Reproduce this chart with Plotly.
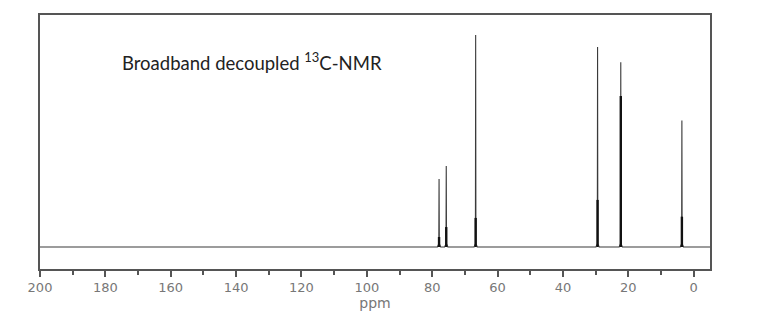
import plotly.graph_objects as go

# Peak data (ppm)
peak_ppm = [77.9, 75.7, 66.7, 29.4, 22.3, 3.6]
peak_height = [32.1, 38.2, 100.0, 94.3, 87.1, 59.6]
# height up to which the peak line appears dense/thick
dense_height = [4.7, 9.4, 13.7, 22.2, 71.2, 14.3]

x_ticks = [200, 180, 160, 140, 120, 100, 80, 60, 40, 20, 0]
title_text = "Broadband decoupled <sup>13</sup>C-NMR"

# Spectrum line: baseline with narrow peaks
foot = 0.5
neck = 0.08
neck_h = 1.5
xs = [200]
ys = [0]
for p, h in zip(peak_ppm, peak_height):
    xs += [p + foot, p + neck, p, p - neck, p - foot]
    ys += [0, neck_h, h, neck_h, 0]
xs.append(-5)
ys.append(0)

# dense lower parts
dx, dy = [], []
for p, d in zip(peak_ppm, dense_height):
    dx += [p, p, None]
    dy += [0, d, None]

fig = go.Figure()
fig.add_trace(go.Scatter(x=xs, y=ys, mode="lines",
                         line=dict(color="#3a3a3a", width=1.1),
                         hoverinfo="skip", showlegend=False))
fig.add_trace(go.Scatter(x=dx, y=dy, mode="lines",
                         line=dict(color="#111111", width=2.4),
                         hoverinfo="skip", showlegend=False))

fig.add_annotation(text=title_text, xref="paper", yref="paper",
                   x=0.119, y=0.815, xanchor="left", yanchor="middle",
                   showarrow=False,
                   font=dict(family="Lato", size=18.5, color="#222222"))

fig.update_layout(
    width=775, height=326,
    margin=dict(l=40, r=65, t=15, b=57),
    paper_bgcolor="white", plot_bgcolor="white",
    xaxis=dict(range=[200, -5], tickvals=x_ticks,
               ticktext=[str(v) for v in x_ticks],
               showgrid=False, zeroline=False,
               showline=True, mirror=True, linecolor="#555555", linewidth=1.5,
               ticks="outside", ticklen=6, tickwidth=1.5, tickcolor="#555555",
               minor=dict(dtick=10, tick0=0, ticks="outside", ticklen=4,
                          tickwidth=1.5, tickcolor="#555555", showgrid=False),
               tickfont=dict(family="DejaVu Sans", size=13, color="#777777"),
               title=dict(text="ppm", standoff=3,
                          font=dict(family="DejaVu Sans", size=14, color="#777777"))),
    yaxis=dict(range=[-10.38, 109.4], showgrid=False, zeroline=False,
               showticklabels=False, ticks="",
               showline=True, mirror=True, linecolor="#555555", linewidth=1.5),
)

fig.write_html("out.html")
